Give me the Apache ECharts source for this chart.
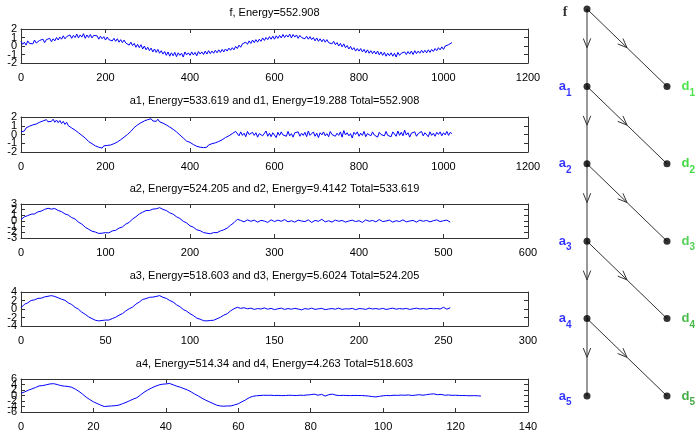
<!DOCTYPE html>
<html><head><meta charset="utf-8">
<script src="https://cdn.jsdelivr.net/npm/echarts@6/dist/echarts.min.js"></script>
<style>html,body{margin:0;padding:0;background:#fff;}#c{width:695px;height:432px;}</style>
</head><body><div id="c"></div>
<script>
// ---------- data ----------
const titles = [
  'f, Energy=552.908',
  'a1, Energy=533.619 and d1, Energy=19.288 Total=552.908',
  'a2, Energy=524.205 and d2, Energy=9.4142 Total=533.619',
  'a3, Energy=518.603 and d3, Energy=5.6024 Total=524.205',
  'a4, Energy=514.34 and d4, Energy=4.263 Total=518.603'
];
const xMaxes = [1200, 1200, 600, 300, 140];
const xIntervals = [200, 200, 100, 50, 20];
const yLimits = [2, 2, 3, 4, 6];
const yIntervals = [1, 1, 1, 2, 2];

const fStep = 4;
const fValues = [
  0.55,0.2,0.45,0.1,0.6,0.3,0.5,0.25,0.7,0.35,
  0.3,0.65,0.45,0.8,0.4,0.75,0.55,0.9,0.5,0.85,
  0.6,1.0,0.7,1.05,0.8,1.2,0.85,1.1,0.9,1.3,
  0.9,1.25,1.0,1.4,0.95,1.3,1.05,1.45,0.9,1.3,
  1.0,1.35,0.95,1.25,1.1,1.2,0.8,1.15,0.85,1.1,
  0.7,1.05,0.75,0.95,0.6,0.9,0.55,0.85,0.45,0.75,
  0.4,0.7,0.35,0.55,0.1,0.45,0.05,0.3,-0.15,0.2,
  -0.2,0.15,-0.35,0.0,-0.45,-0.15,-0.55,-0.25,-0.7,-0.35,
  -0.75,-0.4,-0.85,-0.55,-0.95,-0.65,-1.1,-0.7,-1.2,-0.8,
  -1.15,-0.75,-1.25,-0.8,-1.1,-0.85,-1.3,-0.7,-1.05,-0.8,
  -1.1,-0.7,-1.05,-0.75,-1.15,-0.65,-0.95,-0.7,-1.0,-0.6,
  -0.95,-0.55,-0.9,-0.6,-0.85,-0.5,-0.8,-0.45,-0.75,-0.4,
  -0.7,-0.35,-0.6,-0.25,-0.5,-0.2,-0.45,-0.05,-0.3,0.1,
  -0.15,0.25,0.1,0.45,0.2,0.6,0.3,0.7,0.4,0.75,
  0.45,0.8,0.55,0.95,0.65,1.0,0.75,1.1,0.8,1.15,
  0.8,1.2,0.9,1.25,0.95,1.35,1.0,1.3,1.05,1.4,
  0.95,1.35,1.05,1.3,0.9,1.25,1.0,1.2,0.85,1.15,
  0.8,1.1,0.75,1.0,0.6,0.95,0.55,0.85,0.5,0.8,
  0.45,0.75,0.4,0.6,0.25,0.55,0.15,0.4,0.0,0.3,
  -0.1,0.25,-0.2,0.05,-0.35,-0.05,-0.45,-0.2,-0.6,-0.3,
  -0.6,-0.3,-0.7,-0.4,-0.8,-0.45,-0.85,-0.55,-0.9,-0.6,
  -0.95,-0.6,-1.05,-0.7,-1.1,-0.75,-1.2,-0.85,-1.15,-0.8,
  -1.2,-0.85,-1.3,-0.75,-1.1,-0.85,-1.05,-0.7,-1.0,-0.65,
  -0.95,-0.6,-1.0,-0.55,-0.9,-0.6,-0.85,-0.5,-0.8,-0.5,
  -0.8,-0.45,-0.75,-0.4,-0.65,-0.3,-0.55,-0.2,-0.45,-0.1,
  -0.4,0.0,-0.2,0.15,0.0,0.4
];

const a1Step = 4;
const a1Values = [
  0.3,0.5,0.4,0.75,0.6,0.95,0.8,1.1,0.95,1.2,
  1.05,1.4,1.2,1.55,1.35,1.7,1.45,1.65,1.5,1.75,
  1.4,1.65,1.35,1.6,1.25,1.5,1.15,1.4,1.0,1.2,
  0.75,0.9,0.5,0.65,0.2,0.3,-0.1,0.0,-0.4,-0.45,
  -0.8,-0.7,-1.05,-0.95,-1.3,-1.1,-1.45,-1.25,-1.55,-1.3,
  -1.5,-1.25,-1.45,-1.2,-1.35,-1.05,-1.15,-0.85,-0.9,-0.6,
  -0.65,-0.3,-0.35,0.0,0.15,0.35,0.5,0.8,0.85,1.1,
  1.0,1.35,1.25,1.55,1.35,1.7,1.5,1.8,1.55,1.75,
  1.5,1.75,1.45,1.6,1.3,1.45,1.1,1.2,0.85,0.95,
  0.6,0.75,0.3,0.35,-0.05,0.0,-0.4,-0.3,-0.75,-0.65,
  -0.9,-0.8,-1.15,-1.0,-1.35,-1.2,-1.45,-1.25,-1.5,-1.3,
  -1.45,-1.2,-1.4,-1.05,-1.25,-0.95,-1.1,-0.8,-0.85,-0.6,
  -0.7,-0.35,-0.5,-0.15,-0.2,0.1,0.05,0.35,
  0.2,-0.15,0.3,-0.1,0.15,-0.25,0.35,0.0,-0.2,0.25,
  -0.1,0.2,-0.3,0.1,0.3,-0.15,0.05,0.4,-0.2,0.15,
  -0.25,0.2,0.0,-0.35,0.25,-0.1,0.3,-0.05,0.15,-0.2,
  0.35,-0.15,0.1,-0.3,0.2,0.0,0.3,-0.2,0.15,-0.1,
  0.25,-0.25,0.4,-0.1,0.05,0.3,-0.2,0.15,-0.35,0.2,
  -0.05,0.3,-0.15,0.1,-0.25,0.35,0.0,0.2,-0.2,0.15,
  -0.1,0.3,-0.3,0.45,-0.05,0.2,-0.15,0.1,-0.4,0.25,
  0.0,0.3,-0.2,0.15,-0.1,0.35,-0.25,0.1,0.2,-0.15,
  0.3,-0.05,0.15,-0.3,0.25,0.0,0.2,-0.15,0.35,-0.1,
  0.1,-0.25,0.3,0.05,-0.2,0.4,-0.1,0.25,-0.15,0.5,
  -0.05,0.2,-0.3,0.15,0.0,0.3,-0.2,0.1,-0.1,0.35,
  -0.15,0.2,0.05,-0.25,0.3,-0.1,0.15,-0.2,0.25,0.0,
  0.3,-0.15,0.2,-0.05,0.35,-0.1,0.25,0.1
];

const a2Step = 4;
const a2Values = [
  0.25,0.75,0.95,1.2,1.25,1.6,1.75,2.05,2.25,2.1,
  2.2,1.85,1.65,1.25,1.05,0.6,0.35,-0.2,-0.55,-1.1,
  -1.45,-1.8,-1.95,-2.2,-2.15,-2.05,-2.1,-1.75,-1.65,-1.25,
  -1.05,-0.55,-0.25,0.35,0.75,1.25,1.55,1.85,1.85,2.1,
  2.15,2.35,2.05,1.85,1.45,1.2,0.75,0.45,-0.05,-0.35,
  -0.85,-1.1,-1.55,-1.7,-2.05,-2.15,-2.25,-2.05,-2.05,-1.75,
  -1.55,-1.25,-0.75,-0.3,
  0.3,0.1,-0.15,0.2,-0.05,0.15,-0.2,0.1,0.0,-0.25,
  0.2,-0.1,0.15,-0.05,0.25,-0.15,0.05,-0.2,0.15,0.0,
  -0.1,0.2,-0.25,0.1,-0.05,0.3,-0.15,0.05,-0.2,0.15,
  -0.05,0.1,-0.2,0.0,0.15,-0.1,0.05,-0.25,0.2,-0.05,
  0.1,-0.15,0.25,-0.1,0.0,0.15,-0.2,0.05,-0.1,0.2,
  -0.15,0.0,0.1,-0.2,0.15,-0.05,0.1,-0.15,0.05,0.2,
  -0.1,0.05,0.15,-0.2
];

const a3Step = 2;
const a3Values = [
  0.3,1.1,1.45,2.0,2.15,2.5,2.55,2.85,3.0,3.15,
  2.95,2.65,2.3,2.05,1.45,1.05,0.4,-0.05,-0.75,-1.25,
  -1.85,-2.25,-2.65,-2.8,-2.7,-2.6,-2.6,-2.25,-1.95,-1.45,
  -1.1,-0.45,0.05,0.45,1.15,1.65,2.25,2.45,2.75,2.8,
  2.95,3.15,2.75,2.5,2.0,1.65,1.0,0.55,-0.1,-0.5,
  -1.1,-1.55,-2.15,-2.4,-2.75,-2.8,-2.7,-2.65,-2.3,-1.95,
  -1.45,-1.1,-0.45,0.05,
  0.4,0.15,0.3,0.05,0.2,-0.1,0.1,0.0,0.25,-0.05,
  0.15,-0.15,0.05,0.2,-0.1,0.1,-0.05,0.15,0.0,-0.2,
  0.1,-0.05,0.2,-0.1,0.05,0.15,-0.15,0.0,0.1,-0.05,
  0.2,-0.1,0.05,0.0,0.15,-0.15,0.1,0.05,-0.1,0.2,
  0.0,0.1,-0.05,0.15,-0.1,0.05,0.2,-0.05,0.1,0.0,
  0.15,-0.1,0.05,0.2,0.0,0.1,-0.05,0.15,0.05,0.1,
  0.0,0.4,-0.05,0.3
];

const a4Step = 1;
const a4Values = [
  0.8,1.3,1.9,2.4,2.9,3.5,3.6,3.9,4.2,4.3,
  4.0,3.6,3.4,3.3,3.0,2.3,1.5,0.5,-0.6,-1.5,
  -2.3,-2.9,-3.5,-4.0,-3.9,-3.8,-3.7,-3.5,-3.0,-2.5,
  -1.9,-1.3,-0.8,0.2,1.2,2.0,2.7,3.3,3.8,4.1,
  4.2,4.4,3.9,3.4,3.0,2.5,2.0,1.3,0.5,-0.2,
  -1.0,-1.7,-2.3,-2.9,-3.5,-3.8,-3.9,-3.8,-3.8,-3.4,
  -3.0,-2.3,-1.6,-0.8,
  -0.3,-0.1,0.0,0.1,0.05,0.1,0.0,0.05,-0.05,0.0,
  0.1,0.05,0.0,0.1,0.05,0.2,0.3,0.5,0.1,0.4,
  -0.2,0.3,0.5,0.1,0.0,0.05,0.0,-0.05,0.05,0.0,
  0.0,-0.1,-0.2,-0.4,-0.5,-0.3,-0.1,0.0,-0.05,0.1,
  0.05,0.15,0.1,0.2,0.0,0.15,0.3,0.1,0.3,0.5,
  0.6,0.3,0.4,0.1,0.2,0.05,0.1,0.0,0.0,-0.05,
  -0.1,-0.05,-0.1,-0.2
];

// decomposition tree
const approxNames = ['f', 'a1', 'a2', 'a3', 'a4', 'a5'];
const detailNames = ['d1', 'd2', 'd3', 'd4', 'd5'];
const detailColors = ['#1edc1e', '#14d214', '#2cc42c', '#1eaa1e', '#149614'];

// ---------- layout ----------
const series_steps = [fStep, a1Step, a2Step, a3Step, a4Step];
const series_vals = [fValues, a1Values, a2Values, a3Values, a4Values];
const gridPos = [[29, 34], [117, 35], [204, 34], [292, 34], [379, 35]];
const titleTops = [7, 95, 183, 270, 358];
const FONT = 'Liberation Sans, Arial, Helvetica, sans-serif';
const frameColor = '#333';

const grids = [], xAxes = [], yAxes = [], series = [], titleOpts = [];
for (let i = 0; i < 5; i++) {
  grids.push({left: 21, top: gridPos[i][0], width: 507, height: gridPos[i][1], containLabel: false});
  titleOpts.push({text: titles[i], left: 274.5, top: titleTops[i], textAlign: 'center', padding: 0,
    textStyle: {fontSize: 11, fontWeight: 'normal', color: '#000', fontFamily: FONT}});
  const common = {type: 'value', gridIndex: i, min: 0, max: xMaxes[i], interval: xIntervals[i],
    axisLine: {show: true, onZero: false, lineStyle: {color: frameColor, width: 1}},
    axisTick: {show: true, inside: true, length: 4, lineStyle: {color: frameColor}},
    splitLine: {show: false}};
  xAxes.push(Object.assign({}, common, {position: 'bottom',
    axisLabel: {show: true, color: '#000', fontSize: 11, margin: 9, fontFamily: FONT,
      showMinLabel: true, showMaxLabel: true, hideOverlap: false, formatter: v => String(v)}}));
  xAxes.push(Object.assign({}, common, {position: 'top', axisLabel: {show: false}}));
  const ymin = -yLimits[i], yint = yIntervals[i];
  const ycommon = {type: 'value', gridIndex: i, min: ymin, max: yLimits[i], interval: yint,
    axisLine: {show: true, onZero: false, lineStyle: {color: frameColor, width: 1}},
    axisTick: {show: true, inside: true, length: 4, lineStyle: {color: frameColor}},
    splitLine: {show: false}};
  // main left axis (frame + ticks) - labels split across three label-only axes so none get hidden
  for (let part = 0; part < 3; part++) {
    yAxes.push(Object.assign({}, ycommon, {position: 'left', offset: 0,
      axisLine: {show: part === 0, onZero: false, lineStyle: {color: frameColor, width: 1}},
      axisTick: {show: part === 0, inside: true, length: 4, lineStyle: {color: frameColor}},
      axisLabel: {show: true, color: '#000', fontSize: 11, margin: 4, fontFamily: FONT,
        showMinLabel: true, showMaxLabel: true, hideOverlap: false,
        formatter: v => (Math.round((v - ymin) / yint) % 3 === part ? String(v) : '')}}));
  }
  yAxes.push(Object.assign({}, ycommon, {position: 'right', axisLabel: {show: false}}));
  series.push({type: 'line', xAxisIndex: 2 * i, yAxisIndex: 4 * i, showSymbol: false, symbol: 'none',
    data: series_vals[i].map((v, k) => [k * series_steps[i], v]),
    lineStyle: {color: '#0000ff', width: 1}, itemStyle: {color: '#0000ff'}, animation: false, silent: true});
}

// tree grid
grids.push({left: 587, top: 9, width: 80, height: 387});
xAxes.push({type: 'value', gridIndex: 5, min: 0, max: 1, show: false});
yAxes.push({type: 'value', gridIndex: 5, min: 0, max: 5, inverse: true, show: false});
const TX = xAxes.length - 1, TY = yAxes.length - 1;

const edges = [];
for (let i = 0; i < 5; i++) {
  edges.push([0, i, 0, i + 1]);
  edges.push([0, i, 1, i + 1]);
}
series.push({
  type: 'custom', xAxisIndex: TX, yAxisIndex: TY, data: edges, clip: false, silent: true, z: 1,
  encode: {x: [0, 2], y: [1, 3]},
  renderItem: function (params, api) {
    const p0 = api.coord([api.value(0), api.value(1)]);
    const p1 = api.coord([api.value(2), api.value(3)]);
    const mx = (p0[0] + p1[0]) / 2, my = (p0[1] + p1[1]) / 2;
    const ang = Math.atan2(p1[1] - p0[1], p1[0] - p0[0]);
    const L = 10, a = 22 * Math.PI / 180;
    const b1 = [mx - L * Math.cos(ang - a), my - L * Math.sin(ang - a)];
    const b2 = [mx - L * Math.cos(ang + a), my - L * Math.sin(ang + a)];
    return {type: 'group', children: [
      {type: 'line', shape: {x1: p0[0], y1: p0[1], x2: p1[0], y2: p1[1]}, style: {stroke: '#333', lineWidth: 1}},
      {type: 'polyline', shape: {points: [b1, [mx, my], b2]}, style: {stroke: '#333', lineWidth: 1, fill: null}}
    ]};
  }
});

const richLabel = {
  f: {fontSize: 14, fontWeight: 'bold', color: '#000', fontFamily: 'Liberation Serif, DejaVu Serif, serif', lineHeight: 24, padding: [7, 0, 0, 0]},
  a: {fontSize: 13, fontWeight: 'bold', color: '#0000ff', fontFamily: FONT, lineHeight: 24},
  sa: {fontSize: 10, fontWeight: 'bold', color: '#0000ff', fontFamily: FONT, lineHeight: 10, padding: [13, 0, 0, 0]}
};
series.push({
  type: 'scatter', xAxisIndex: TX, yAxisIndex: TY, symbol: 'circle', symbolSize: 7, z: 3, silent: true,
  itemStyle: {color: '#000'},
  data: approxNames.map((n, i) => ({name: n, value: [0, i],
    label: n === 'f' ? {distance: 16} : {}})),
  label: {show: true, position: 'left', distance: 12,
    formatter: p => p.name === 'f' ? '{f|f}' : '{a|a}{sa|' + p.name.slice(1) + '}',
    rich: richLabel}
});
series.push({
  type: 'scatter', xAxisIndex: TX, yAxisIndex: TY, symbol: 'circle', symbolSize: 7, z: 3, silent: true,
  itemStyle: {color: '#000'},
  data: detailNames.map((n, i) => ({
    name: n, value: [1, i + 1],
    label: {rich: {
      d: {fontSize: 13, fontWeight: 'bold', color: detailColors[i], fontFamily: FONT, lineHeight: 24},
      sd: {fontSize: 10, fontWeight: 'bold', color: detailColors[i], fontFamily: FONT, lineHeight: 10, padding: [13, 0, 0, 0]}
    }}
  })),
  label: {show: true, position: 'right', distance: 11,
    formatter: p => '{d|d}{sd|' + p.name.slice(1) + '}'}
});

const chart = echarts.init(document.getElementById('c'), null, {renderer: 'canvas'});
chart.setOption({
  animation: false,
  backgroundColor: '#fff',
  title: titleOpts,
  grid: grids,
  xAxis: xAxes,
  yAxis: yAxes,
  series: series
});
</script>
</body></html>
